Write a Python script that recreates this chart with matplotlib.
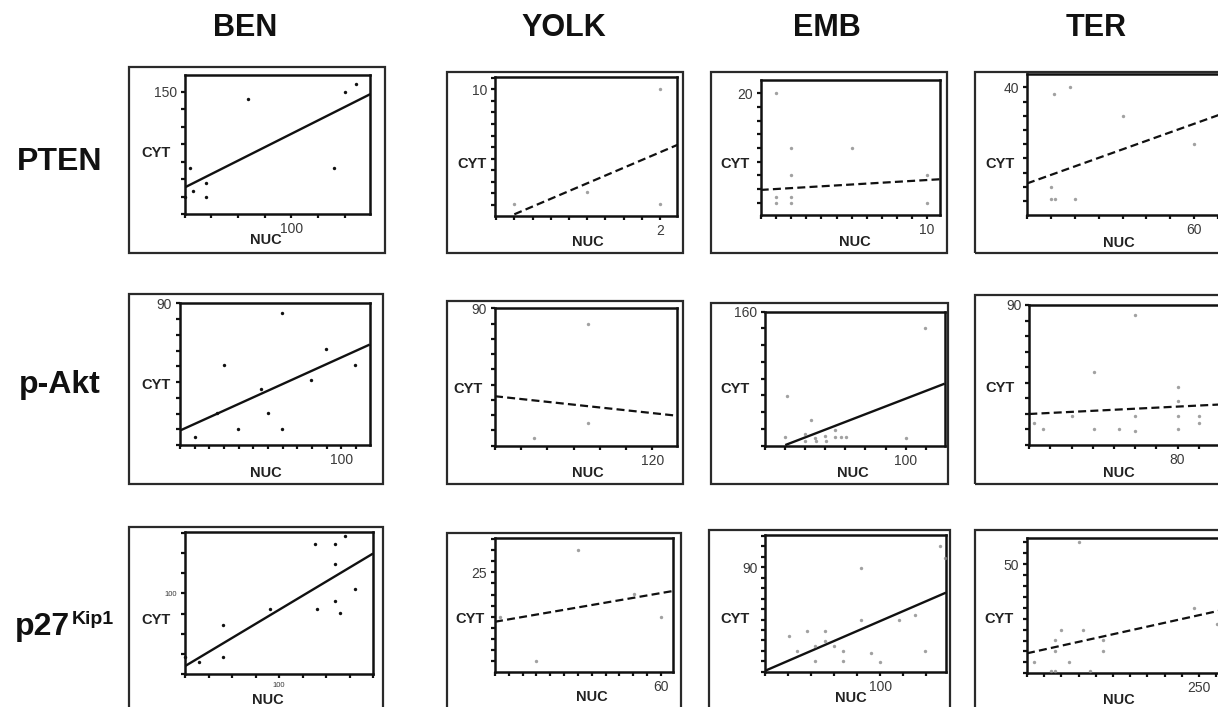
import numpy as np
import matplotlib
matplotlib.use("Agg")
import matplotlib.pyplot as plt
from matplotlib.patches import Rectangle

plt.rcParams['font.family'] = ['Liberation Sans', 'DejaVu Sans']

W, H = 1218, 707

# ---------------- text ----------------
col_titles = ["BEN", "YOLK", "EMB", "TER"]
row_titles = ["PTEN", "p-Akt", "p27"]
row_superscripts = ["", "", "Kip1"]
x_axis_label = "NUC"
y_axis_label = "CYT"

# ---------------- data (NUC vs CYT) ----------------
# PTEN row
pten_ben_nuc = [0.6, 4.7, 7.8, 19.7, 19.7, 59.4, 140, 150.6, 160.3]
pten_ben_cyt = [0, 40.5, 8.1, 19, 0, 139.5, 40.5, 149.5, 160.5]
pten_yolk_nuc = [0, 1, 2, 2]
pten_yolk_cyt = [0.1, 1.1, 10, 0.1]
pten_emb_nuc = [0, 0, 0, 1, 1, 1, 1, 5, 10, 10]
pten_emb_cyt = [20, 1.1, 0, 10, 5, 1.1, 0, 10, 5, 0]
pten_ter_nuc = [1.1, 7.8, 30, 60, 0, 0, 1.8, 10.2]
pten_ter_cyt = [37.5, 40, 30, 20, 5, 0.9, 0.9, 0.9]

# p-Akt row
pakt_ben_nuc = [0, 15.5, 19.8, 29.5, 45, 50, 59.5, 59.5, 79, 89.8, 109.5]
pakt_ben_cyt = [5.3, 20.2, 51, 10.2, 35.5, 20.2, 83.6, 10.2, 41, 61, 51]
pakt_yolk_nuc = [30, 70.6, 70.6]
pakt_yolk_cyt = [4.8, 79.8, 14.6]
pakt_emb_nuc = [41.2, 40.2, 52.8, 50.2, 50.2, 55.1, 55.6, 59.8, 60.2, 65, 65, 68, 70.2, 100.2, 109.7]
pakt_emb_cyt = [59.6, 9.8, 30.2, 14.5, 5.9, 8.6, 5.9, 11.8, 5.9, 19.2, 9.8, 9.8, 9.8, 8.6, 140]
pakt_ter_nuc = [60, 40.4, 80, 80, 60, 80, 90, 90, 12, 30.2, 16.5, 40.4, 52.2, 60, 80]
pakt_ter_cyt = [83.5, 47, 37.3, 28.2, 18.9, 18.9, 18.9, 14.1, 14.1, 18.9, 10.4, 10.4, 10.4, 9.3, 10.4]

# p27Kip1 row
p27_ben_nuc = [0, 14.6, 40.1, 40.1, 89.8, 137.8, 140.3, 159.8, 159.8, 159.8, 165.1, 170.5, 180.4]
p27_ben_cyt = [21.7, 15.4, 61.3, 21.7, 80.8, 162, 80.8, 162, 137, 91, 75.8, 171.7, 105.8]
p27_yolk_nuc = [1.8, 15, 30.1, 50.2, 60]
p27_yolk_cyt = [15, 5.1, 30, 20.1, 15]
p27_emb_nuc = [20.6, 27.8, 36.2, 43.5, 43.5, 51.6, 52.2, 59.7, 67.8, 67.8, 83.5, 83.5,
               92.2, 100, 115.9, 129.9, 139.1, 151.6, 155.9]
p27_emb_cyt = [30.8, 17.8, 35.1, 22.1, 9.2, 35.1, 26.5, 22.1, 17.8, 9.2, 89.7, 44.6,
               15.8, 8.6, 44.6, 48.9, 17.8, 108.7, 97.8]
p27_ter_nuc = [75.2, 242.7, 276, 50, 81.6, 40.3, 110.2, 40.3, 110.2, 9.7, 60.7, 35, 40.3, 91.3]
p27_ter_cyt = [60.1, 30.1, 22.6, 19.9, 19.9, 15.3, 15.3, 10.2, 10.2, 5.35, 5.35, 1.07, 1.07, 1.07]

# regression lines: intercept, slope, x where the line starts
fit_intercept = [[13, -0.8, 2.49, 9.2], [13.4, 32.4, -36.5, 19.27], [10, 13.9, 0.86, 9.17]]
fit_slope = [[0.768, 2.68, 0.164, 0.3], [0.4224, -0.092, 0.927, 0.0677], [0.698, 0.107, 0.429, 0.0699]]
fit_x_start = [[0, 0, -1.03, -10], [-10.2, 0, 40.2, 10], [0, 0, 0, 0]]
fit_significant = [[True, False, False, False], [True, False, True, False], [True, False, True, False]]

# labelled tick values
x_labeled_tick = [[100, 2, 10, 60], [100, 120, 100, 80], [100, 60, 100, 250]]
y_labeled_tick = [[150, 10, 20, 40], [90, 90, 160, 90], [100, 25, 90, 50]]

NUC = [[pten_ben_nuc, pten_yolk_nuc, pten_emb_nuc, pten_ter_nuc],
       [pakt_ben_nuc, pakt_yolk_nuc, pakt_emb_nuc, pakt_ter_nuc],
       [p27_ben_nuc, p27_yolk_nuc, p27_emb_nuc, p27_ter_nuc]]
CYT = [[pten_ben_cyt, pten_yolk_cyt, pten_emb_cyt, pten_ter_cyt],
       [pakt_ben_cyt, pakt_yolk_cyt, pakt_emb_cyt, pakt_ter_cyt],
       [p27_ben_cyt, p27_yolk_cyt, p27_emb_cyt, p27_ter_cyt]]

# ---------------- layout (pixels) ----------------
AX_PX = [[(184.7, 75, 370.3, 214), (495, 77.3, 677.3, 215.7), (760.7, 80, 940.3, 215), (1027, 74, 1232, 215)],
         [(179.7, 303.3, 369.7, 445), (495, 308.3, 677.3, 445.7), (764.7, 311.7, 944.7, 445.7), (1029.3, 305, 1232, 445)],
         [(185.3, 532.3, 373, 674), (495, 538.3, 673.3, 671.7), (765.3, 535, 946, 671.7), (1027, 538.3, 1232, 673.3)]]
BOX_PX = [[(129, 67, 385, 253), (447, 72, 683, 253), (711, 72, 947, 253), (975, 72, 1245, 253)],
          [(129, 294, 383, 484), (447, 301, 683, 484), (711, 303, 948, 484), (975, 295, 1245, 484)],
          [(129, 527, 383, 720), (447, 533, 681, 720), (709, 530, 950, 720), (975, 530, 1245, 720)]]
XLIM = [[(0, 174), (-0.265, 2.237), (-1.03, 10.88), (-10, 75.8)],
        [(-10.2, 119.3), (0, 139), (30, 119.3), (10, 105.7)],
        [(0, 200), (0, 64.5), (0, 157), (0, 298)]]
YLIM = [[(-25, 174), (-0.92, 11.04), (-2.26, 22.4), (-4.9, 44.7)],
        [(0, 90), (0, 90), (0, 160), (0, 90)],
        [(0, 176), (2.7, 32.6), (0, 117.9), (0, 61.9)]]
XSTEP = [[25, 0.25, 1, 10], [10, 20, 10, 10], [25, 5, 20, 25]]
YSTEP = [[25, 1, 2.5, 5], [10, 10, 20, 10], [25, 2.5, 9, 5]]
NUC_PX = [[(266, 240), (588, 242), (854.7, 242), (1118.7, 242.7)],
          [(266, 473), (588, 473), (853, 473), (1118.7, 473)],
          [(268, 700), (591.7, 697), (851.3, 698.3), (1118.7, 700)]]
CYT_PX = [[(156, 153), (472, 164), (734.7, 164), (1000, 164)],
          [(156, 385), (468, 389), (734.7, 389), (1000, 388)],
          [(156.3, 620), (470, 619.3), (734.7, 619.3), (998.7, 619.3)]]
COL_TITLE_X = [245, 564, 827, 1096]
ROW_TITLE_Y = [162, 385, 627]

fig = plt.figure(figsize=(W / 100, H / 100), dpi=100)
fig.patch.set_facecolor('white')


def fx(x):
    return x / W


def fy(y):
    return 1 - y / H


def ticks_for(lim, step):
    start = np.ceil(lim[0] / step - 1e-6) * step
    return np.arange(start, lim[1] + 1e-9, step)


for r in range(3):
    for c in range(4):
        bl, bt, br, bb = BOX_PX[r][c]
        fig.add_artist(Rectangle((fx(bl), fy(bb)), fx(br - bl), (bb - bt) / H,
                                 transform=fig.transFigure, fill=False,
                                 lw=1.6, ec='#2a2a2a', zorder=0))
        l, t, rr, b = AX_PX[r][c]
        ax = fig.add_axes([fx(l), fy(b), fx(rr - l), (b - t) / H])
        ax.set_xlim(*XLIM[r][c])
        ax.set_ylim(*YLIM[r][c])
        for s in ax.spines.values():
            s.set_linewidth(1.8)
            s.set_color('#111')
        small = (r == 2 and c == 0)
        fs = 5.5 if small else 10
        xt = ticks_for(XLIM[r][c], XSTEP[r][c])
        yt = ticks_for(YLIM[r][c], YSTEP[r][c])
        ax.set_xticks(xt)
        ax.set_yticks(yt)
        ax.set_xticklabels([(f"{x_labeled_tick[r][c]:g}" if abs(v - x_labeled_tick[r][c]) < 1e-6 else "") for v in xt])
        ax.set_yticklabels([(f"{y_labeled_tick[r][c]:g}" if abs(v - y_labeled_tick[r][c]) < 1e-6 else "") for v in yt])
        ax.tick_params(direction='out', length=3.2, width=1.6, color='#111',
                       labelsize=fs, labelcolor='#3a3a3a', pad=2.5)

        # points
        if c == 0:
            ax.scatter(NUC[r][c], CYT[r][c], s=6, color='#111', zorder=3, clip_on=False, linewidths=0)
        else:
            ax.scatter(NUC[r][c], CYT[r][c], s=6, color='#8a8a8a', alpha=0.8, zorder=3, clip_on=False, linewidths=0)

        # regression line
        x0 = fit_x_start[r][c]
        x1 = XLIM[r][c][1]
        xs = np.array([x0, x1])
        ys = fit_intercept[r][c] + fit_slope[r][c] * xs
        if fit_significant[r][c]:
            ax.plot(xs, ys, color='#111', lw=1.7, solid_capstyle='butt', zorder=2)
        else:
            ax.plot(xs, ys, color='#111', lw=1.6, dashes=(3.6, 1.9), zorder=2)

        nx, ny = NUC_PX[r][c]
        fig.text(fx(nx), fy(ny), x_axis_label, ha='center', va='center',
                 fontsize=10.5, fontweight='bold', color='#222')
        cx, cy = CYT_PX[r][c]
        fig.text(fx(cx), fy(cy), y_axis_label, ha='center', va='center',
                 fontsize=10.5, fontweight='bold', color='#222')

for c, name in enumerate(col_titles):
    fig.text(fx(COL_TITLE_X[c]), fy(28), name, ha='center', va='center',
             fontsize=22, fontweight='bold', color='#111')

for r, name in enumerate(row_titles):
    if row_superscripts[r]:
        fig.text(fx(15), fy(ROW_TITLE_Y[r]), name, ha='left', va='center',
                 fontsize=23, fontweight='bold', color='#111')
        fig.text(fx(72), fy(ROW_TITLE_Y[r] - 8), row_superscripts[r], ha='left', va='center',
                 fontsize=14, fontweight='bold', color='#111')
    else:
        fig.text(fx(60), fy(ROW_TITLE_Y[r]), name, ha='center', va='center',
                 fontsize=23, fontweight='bold', color='#111')

fig.savefig('out.png', dpi=100, facecolor='white')
